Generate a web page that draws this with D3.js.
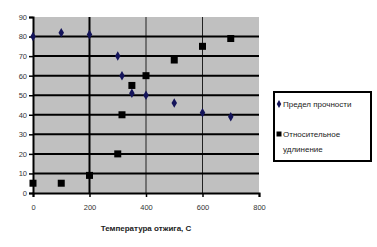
<!DOCTYPE html>
<html><head><meta charset="utf-8">
<script src="https://cdn.jsdelivr.net/npm/d3@7"></script>
<style>body{margin:0;background:#fff}svg{display:block}text{font-family:"Liberation Sans Narrow","Liberation Sans",Arial,sans-serif}</style>
</head><body><svg id="c" width="377" height="247"></svg>
<script>
const temps1 = [0,100,200,300,315,350,400,500,600,700];
const strength = [80,82,81,70,60,51,50,46,41,39];
const temps2 = [0,100,200,300,315,350,400,500,600,700];
const elongation = [5,5,9,20,40,55,60,68,75,79];
const xTicks = [0,200,400,600,800];
const yTicks = [0,10,20,30,40,50,60,70,80,90];
const seriesNames = ["Предел прочности","Относительное удлинение"];
const xTitle = "Температура отжига, С";

const svg = d3.select("#c");
const L=33, R=259, T=17, B=193;
const x = d3.scaleLinear().domain([0,800]).range([L,R]);
const y = d3.scaleLinear().domain([0,90]).range([B,T]);

svg.append("rect").attr("x",L).attr("y",T).attr("width",R-L).attr("height",B-T).attr("fill","#c0c0c0");

// legend frame (drawn first)
svg.append("rect").attr("x",273).attr("y",91).attr("width",99).attr("height",71).attr("fill","#000");
svg.append("rect").attr("x",275).attr("y",93).attr("width",95).attr("height",67).attr("fill","#fff");

// vertical gridlines
svg.append("g").selectAll("line").data(xTicks.filter(d=>d>0&&d<800)).join("line")
  .attr("x1",d=>x(d)).attr("x2",d=>x(d)).attr("y1",T).attr("y2",B)
  .attr("stroke",d=>d===200?"#000":"#222").attr("stroke-width",d=>d===200?2:1);
// horizontal gridlines
svg.append("g").selectAll("line").data(yTicks.filter(d=>d>0&&d<90)).join("line")
  .attr("x1",L).attr("x2",R).attr("y1",d=>y(d)).attr("y2",d=>y(d))
  .attr("stroke","#000").attr("stroke-width",2);

// axes
const xa = svg.append("g").attr("transform",`translate(0,${B})`)
  .call(d3.axisBottom(x).tickValues(xTicks).tickSize(4).tickPadding(8));
const ya = svg.append("g").attr("transform",`translate(${L},0)`)
  .call(d3.axisLeft(y).tickValues(yTicks).tickSize(4).tickPadding(2));
[xa,ya].forEach(a=>{
  a.select(".domain").attr("stroke","#000").attr("stroke-width",2);
  a.selectAll(".tick line").attr("stroke","#000").attr("stroke-width",1.5);
  a.selectAll("text").attr("font-size",7.5).attr("fill","#333")
    .attr("font-family","Liberation Sans Narrow, Liberation Sans, Arial");
});

// series
svg.append("g").selectAll("path").data(temps1.map((t,i)=>[t,strength[i]])).join("path")
  .attr("d",d3.symbol(d3.symbolDiamond,26))
  .attr("transform",d=>`translate(${x(d[0])},${y(d[1])})`).attr("fill","#14145a");
svg.append("g").selectAll("rect").data(temps2.map((t,i)=>[t,elongation[i]])).join("rect")
  .attr("x",d=>x(d[0])-3.5).attr("y",d=>y(d[1])-3.5).attr("width",7).attr("height",7).attr("fill","#000");

// axis title
svg.append("text").attr("x",(L+R)/2).attr("y",231).attr("text-anchor","middle")
  .attr("font-size",8).attr("font-weight","bold").attr("fill","#222").text(xTitle);

// legend entries
const lg = svg.append("g").attr("class","legend");
lg.append("path").attr("d",d3.symbol(d3.symbolDiamond,18)).attr("transform","translate(279,104)").attr("fill","#14145a");
lg.append("text").attr("x",283).attr("y",107).attr("font-size",8).attr("fill","#222").text(seriesNames[0]);
lg.append("path").attr("d","M276.5,131.5h5v5h-5Z").attr("fill","#000");
const words = seriesNames[1].split(" ");
lg.append("text").attr("x",283).attr("y",137).attr("font-size",8).attr("fill","#222").text(words[0]);
lg.append("text").attr("x",283).attr("y",152).attr("font-size",8).attr("fill","#222").text(words[1]);
</script></body></html>
